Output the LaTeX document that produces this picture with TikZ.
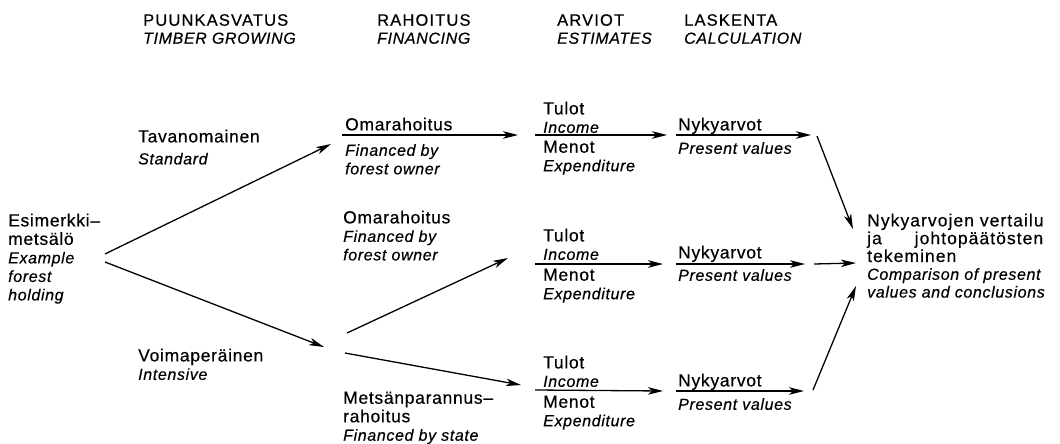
\documentclass[tikz,border=0pt]{standalone}
\usepackage{fontspec}
\newfontfamily\dfont{Liberation Sans}[LetterSpace=4,FakeBold=0.4]
\newfontfamily\ffont{Liberation Sans}[LetterSpace=6,FakeBold=0.4]
\newfontfamily\hfont{Liberation Sans}[LetterSpace=7,FakeBold=0.4]
\usetikzlibrary{arrows.meta}
\newcommand\subl[1]{{\fontsize{16}{18.5}\selectfont\itshape #1}}
\newcommand\subh[1]{{\dfont\fontsize{16}{18}\selectfont\itshape #1}}
\begin{document}
\begin{tikzpicture}[x=1pt,y=-1pt,
  txt/.style={inner sep=0pt, anchor=north west, align=left, font=\dfont\fontsize{17.5}{18.5}\selectfont},
  hdr/.style={inner sep=0pt, anchor=north west, align=left, font=\hfont\fontsize{16.5}{18}\selectfont},
  sub/.style={inner sep=0pt, anchor=north west, align=left, font=\dfont\fontsize{16}{18.5}\selectfont\itshape},
  arr/.style={-{Stealth[length=15pt,width=7.5pt,inset=4pt]}, line width=1.3pt},
  ln/.style={line width=1.3pt}]
\useasboundingbox (0,0) rectangle (1060,444);
% headers
\node[hdr] (h1) at (143,14) {PUUNKASVATUS\\\subh{TIMBER GROWING}};
\node[hdr] (h2) at (377,14) {RAHOITUS\\\subh{FINANCING}};
\node[hdr] (h3) at (557,14) {ARVIOT\\\subh{ESTIMATES}};
\node[hdr] (h4) at (684,14) {LASKENTA\\\subh{CALCULATION}};
% left
\node[txt] (esim) at (8,213.5) {Esimerkki–\\metsälö\\\subl{Example}\\\subl{forest}\\\subl{holding}};
\node[txt] (tav) at (138,129.5) {Tavanomainen\\[3.5pt]\subl{Standard}};
\node[txt] (voima) at (138,348.5) {Voimaperäinen\\\subl{Intensive}};
% financing
\node[txt] (oma1) at (345,117.5) {Omarahoitus};
\node[sub] (oma1s) at (345,144) {Financed by\\forest owner};
\node[txt] (oma2) at (343,210.5) {Omarahoitus\\\subl{Financed by}\\\subl{forest owner}};
\node[txt] (mets) at (343,391.5) {Metsänparannus–\\rahoitus\\\subl{Financed by state}};
% estimates
\node[txt] (tulot1) at (543,101.5) {Tulot\\\subl{Income}};
\node[txt] (menot1) at (543,140.5) {Menot\\\subl{Expenditure}};
\node[txt] (tulot2) at (543,228.5) {Tulot\\\subl{Income}};
\node[txt] (menot2) at (543,268.5) {Menot\\\subl{Expenditure}};
\node[txt] (tulot3) at (543,355.5) {Tulot\\\subl{Income}};
\node[txt] (menot3) at (543,395.5) {Menot\\\subl{Expenditure}};
% calculation
\node[txt] (nyk1) at (678,117.5) {Nykyarvot};
\node[sub] (pv1) at (678,142) {Present values};
\node[txt] (nyk2) at (678,245.5) {Nykyarvot};
\node[sub] (pv2) at (678,269) {Present values};
\node[txt] (nyk3) at (678,373.5) {Nykyarvot};
\node[sub] (pv3) at (678,398) {Present values};
% result
\node[txt, font=\ffont\fontsize{17.5}{17.8}\selectfont] (fin) at (867,213.5)
  {Nykyarvojen vertailu\\\hbox to 176pt{ja\hfill johtopäätösten}\\tekeminen\\{\dfont\fontsize{16}{17.8}\selectfont\itshape Comparison of present}\\{\dfont\fontsize{16}{17.8}\selectfont\itshape values and conclusions}};
% connector end points
\coordinate (e1) at (105,254);
\coordinate (e2) at (105,262);
\coordinate (t1) at (331,144);
\coordinate (t2) at (324,347);
\coordinate (v1) at (347,333);
\coordinate (v1e) at (508,258);
\coordinate (v2) at (345,353);
\coordinate (v2e) at (521,385);
\coordinate (o1a) at (342,135);
\coordinate (o1b) at (518,135);
\coordinate (a1) at (535,135);
\coordinate (a1e) at (667,135);
\coordinate (a2) at (535,264);
\coordinate (a2e) at (663,264);
\coordinate (a3) at (535,390);
\coordinate (a3e) at (663,391);
\coordinate (n1) at (676,135);
\coordinate (n1e) at (811,135);
\coordinate (n2) at (676,264);
\coordinate (n2e) at (805,264);
\coordinate (n3) at (676,391);
\coordinate (n3e) at (804,391);
\coordinate (r1) at (817,136);
\coordinate (r1e) at (853,229);
\coordinate (r2) at (814,264);
\coordinate (r2e) at (856,263);
\coordinate (r3) at (813,390);
\coordinate (r3e) at (856,286);
% connectors
\draw[arr] (e1) -- (t1);
\draw[arr] (e2) -- (t2);
\draw[arr] (v1) -- (v1e);
\draw[arr] (v2) -- (v2e);
\draw[arr] (o1a) -- (o1b);
\draw[arr] (a1) -- (a1e);
\draw[arr] (a2) -- (a2e);
\draw[arr] (a3) -- (a3e);
\draw[arr] (n1) -- (n1e);
\draw[arr] (n2) -- (n2e);
\draw[arr] (n3) -- (n3e);
\draw[arr] (r1) -- (r1e);
\draw[arr] (r2) -- (r2e);
\draw[arr] (r3) -- (r3e);
\end{tikzpicture}
\end{document}
